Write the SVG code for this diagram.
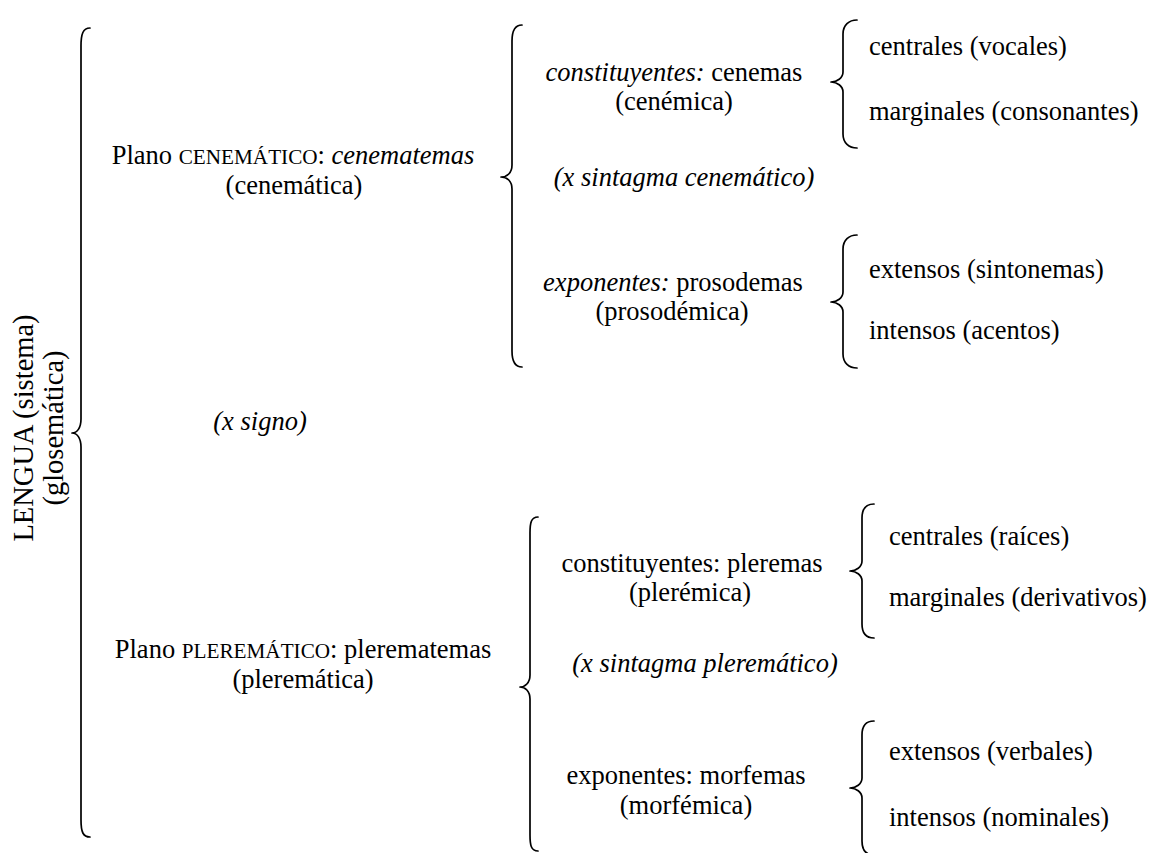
<svg xmlns="http://www.w3.org/2000/svg" width="1152" height="853" viewBox="0 0 1152 853">
<style>
text{font-family:"Liberation Serif","Times New Roman",serif;font-size:26.5px;fill:#000}
.c{text-anchor:middle}
.i{font-style:italic}
.sc{font-size:21.2px}
.rot{font-size:28.5px}
.brace{fill:none;stroke:#000;stroke-width:1.7;stroke-linecap:round;stroke-linejoin:round}
</style>
<rect width="1152" height="853" fill="#fff"/>
<g id="connectors">
<path class="brace" d="M90,28 C83,28 81,34 81,46 L81,419 C81,428 77,433 72,433 C77,433 81,438 81,447 L81,820 C81,832 83,837 90,837"/>
<path class="brace" d="M522,25 C515,25 512,31 512,41 L512,165 C512,173 507,177 501,177 C507,177 512,181 512,189 L512,351 C512,361 515,367 522,367"/>
<path class="brace" d="M857,20 C849,20 843,25 843,34 L843,72 C843,78 837,82 831,82 C837,82 843,86 843,92 L843,134 C843,143 849,148 857,148"/>
<path class="brace" d="M857,235 C849,235 843,240 843,249 L843,292 C843,298 837,302 831,302 C837,302 843,306 843,312 L843,354 C843,363 849,368 857,368"/>
<path class="brace" d="M538,517 C531,517 530,523 530,533 L530,675 C530,683 525,687 520,687 C525,687 530,691 530,699 L530,835 C530,845 531,851 538,851"/>
<path class="brace" d="M874,504 C866,504 862,509 862,518 L862,561 C862,567 856,571 850,571 C856,571 862,575 862,581 L862,624 C862,633 866,638 874,638"/>
<path class="brace" d="M874,721 C866,721 862,726 862,735 L862,778 C862,784 856,788 850,788 C856,788 862,792 862,798 L862,841 C862,850 866,855 874,855"/>
</g>
<g id="lengua">
<text class="c rot" transform="translate(33,428) rotate(-90)">LENGUA (sistema)</text>
<text class="c rot" transform="translate(63,428) rotate(-90)">(glosemática)</text>
</g>
<g id="plano-cenematico">
<text class="c" x="293" y="164">Plano <tspan class="sc">CENEMÁTICO</tspan>: <tspan class="i">cenematemas</tspan></text>
<text class="c" x="294" y="194">(cenemática)</text>
</g>
<g id="constituyentes-cenemas">
<text class="c" x="674" y="81"><tspan class="i">constituyentes:</tspan> cenemas</text>
<text class="c" x="674" y="110">(cenémica)</text>
</g>
<g id="sintagma-cenematico">
<text class="c i" x="684" y="186">(x sintagma cenemático)</text>
</g>
<g id="exponentes-prosodemas">
<text class="c" x="673" y="291"><tspan class="i">exponentes:</tspan> prosodemas</text>
<text class="c" x="672" y="320">(prosodémica)</text>
</g>
<g id="centrales-vocales"><text x="869" y="55">centrales (vocales)</text></g>
<g id="marginales-consonantes"><text x="869" y="120">marginales (consonantes)</text></g>
<g id="extensos-sintonemas"><text x="869" y="278">extensos (sintonemas)</text></g>
<g id="intensos-acentos"><text x="869" y="339">intensos (acentos)</text></g>
<g id="signo"><text class="c i" x="260" y="430">(x signo)</text></g>
<g id="plano-plerematico">
<text class="c" x="303" y="658">Plano <tspan class="sc">PLEREMÁTICO</tspan>: plerematemas</text>
<text class="c" x="303" y="688">(pleremática)</text>
</g>
<g id="constituyentes-pleremas">
<text class="c" x="692" y="572">constituyentes: pleremas</text>
<text class="c" x="690" y="601">(plerémica)</text>
</g>
<g id="sintagma-plerematico">
<text class="c i" x="705" y="672">(x sintagma pleremático)</text>
</g>
<g id="exponentes-morfemas">
<text class="c" x="686" y="784">exponentes: morfemas</text>
<text class="c" x="686" y="814">(morfémica)</text>
</g>
<g id="centrales-raices"><text x="889" y="545">centrales (raíces)</text></g>
<g id="marginales-derivativos"><text x="889" y="606">marginales (derivativos)</text></g>
<g id="extensos-verbales"><text x="889" y="760">extensos (verbales)</text></g>
<g id="intensos-nominales"><text x="889" y="826">intensos (nominales)</text></g>
</svg>
